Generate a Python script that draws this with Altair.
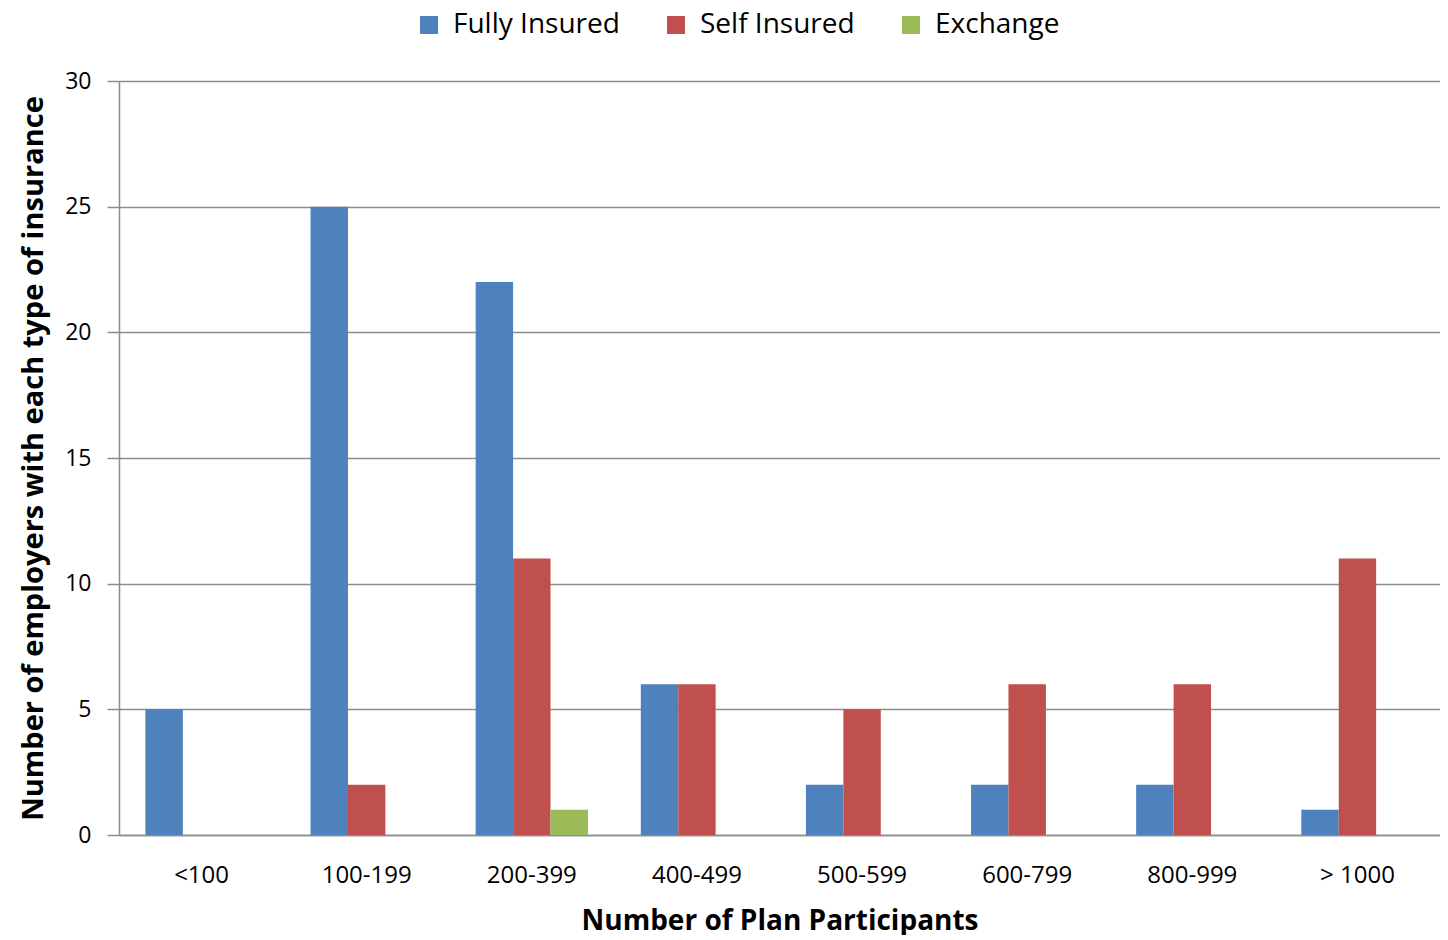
import altair as alt
import pandas as pd

categories = ["<100", "100-199", "200-399", "400-499", "500-599", "600-799", "800-999", "> 1000"]
series = ["Fully Insured", "Self Insured", "Exchange"]
fully_insured = [5, 25, 22, 6, 2, 2, 2, 1]
self_insured = [0, 2, 11, 6, 5, 6, 6, 11]
exchange = [0, 0, 1, 0, 0, 0, 0, 0]
colors = ["#4F81BD", "#C0504D", "#9BBB59"]
y_ticks = [0, 5, 10, 15, 20, 25, 30]

rows = []
for s, vals in zip(series, [fully_insured, self_insured, exchange]):
    for c, v in zip(categories, vals):
        rows.append({"cat": c, "series": s, "value": v})
df = pd.DataFrame(rows)

font = "Open Sans"
grid_col = "#8C8C8C"

chart = alt.Chart(df).mark_bar().encode(
    x=alt.X(
        "cat:N", sort=categories,
        scale=alt.Scale(paddingInner=0.32, paddingOuter=0.16),
        axis=alt.Axis(
            title="Number of Plan Participants", labelAngle=0, ticks=False,
            labelFont=font, labelFontSize=24, labelColor="#000", labelPadding=28,
            labelLimit=1000, titleLimit=2000,
            titleFont=font, titleFontSize=28, titleFontWeight="bold", titleColor="#000",
            titlePadding=20, domainColor=grid_col, domainWidth=1.5,
        ),
    ),
    xOffset=alt.XOffset("series:N", sort=series, scale=alt.Scale(paddingInner=0, paddingOuter=0)),
    y=alt.Y(
        "value:Q",
        scale=alt.Scale(domain=[0, 30]),
        axis=alt.Axis(
            title="Number of  employers with each type of insurance",
            values=y_ticks, tickSize=12, tickColor=grid_col, tickWidth=1.5,
            gridColor=grid_col, gridWidth=1.5, domainColor=grid_col, domainWidth=1.5,
            labelFont=font, labelFontSize=23, labelColor="#000", labelPadding=16,
            labelLimit=1000, titleLimit=2000,
            titleFont=font, titleFontSize=29, titleFontWeight="bold", titleColor="#000",
            titlePadding=16,
        ),
    ),
    color=alt.Color(
        "series:N", sort=series,
        scale=alt.Scale(domain=series, range=colors),
        legend=alt.Legend(
            title=None, orient="none", direction="horizontal",
            legendX=296, legendY=-70,
            symbolType="square", symbolSize=324, symbolStrokeWidth=0, symbolOpacity=1,
            labelFont=font, labelFontSize=28, labelColor="#000", labelOffset=10,
            labelLimit=1000, columnPadding=42,
        ),
    ),
).properties(
    width=1321, height=754,
    padding={"left": 11, "top": 3, "right": 0, "bottom": 0},
).configure_view(stroke=None)

chart.save("out.html", embed_options={"renderer": "svg", "actions": False})
